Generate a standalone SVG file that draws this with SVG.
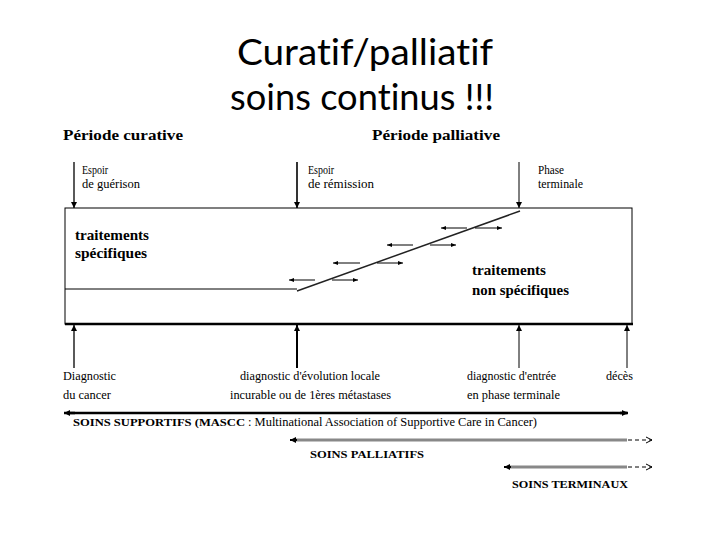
<svg xmlns="http://www.w3.org/2000/svg" width="720" height="540" viewBox="0 0 720 540">
<defs>
<style>
.t{font-family:"Liberation Serif","Times New Roman",serif;font-size:12px;fill:#000}
.b{font-family:"Liberation Serif","Times New Roman",serif;font-weight:bold;fill:#000}
.title{font-family:Lato,"Open Sans",sans-serif;font-size:37px;fill:#000;text-anchor:middle;font-variant-ligatures:none;font-feature-settings:"liga" 0,"dlig" 0}
.ln{stroke:#000;fill:none}
</style>
<marker id="ah" markerUnits="userSpaceOnUse" markerWidth="7" markerHeight="7" refX="6" refY="3.5" orient="auto"><path d="M0,0.5 L6,3.5 L0,6.5 z" fill="#000"/></marker>
<marker id="ahs" markerUnits="userSpaceOnUse" markerWidth="6" markerHeight="6" refX="5" refY="3" orient="auto"><path d="M0,1 L5,3 L0,5 z" fill="#000"/></marker>
<marker id="aho" markerUnits="userSpaceOnUse" markerWidth="8" markerHeight="8" refX="6" refY="4" orient="auto"><path d="M0,1 L6,4 L0,7" fill="none" stroke="#000" stroke-width="1"/></marker>
</defs>
<rect width="720" height="540" fill="#fff"/>

<g id="title">
<text class="title" x="365" y="65" textLength="256" lengthAdjust="spacingAndGlyphs">Curatif/palliatif</text>
<text class="title" x="362" y="110" textLength="264" lengthAdjust="spacingAndGlyphs">soins continus !!!</text>
</g>

<g id="periodes">
<text class="b" x="63" y="140" font-size="14" textLength="120" lengthAdjust="spacingAndGlyphs">Période curative</text>
<text class="b" x="372" y="140" font-size="14" textLength="128" lengthAdjust="spacingAndGlyphs">Période palliative</text>
</g>

<g id="box">
<rect x="65" y="208" width="567" height="116" fill="none" stroke="#000" stroke-width="1"/>
<line x1="65" y1="324" x2="633" y2="324" stroke="#000" stroke-width="2.5"/>
<text class="b" x="75" y="240" font-size="14" textLength="74" lengthAdjust="spacingAndGlyphs">traitements</text>
<text class="b" x="75" y="258" font-size="14" textLength="72" lengthAdjust="spacingAndGlyphs">spécifiques</text>
<text class="b" x="472" y="275" font-size="14" textLength="74" lengthAdjust="spacingAndGlyphs">traitements</text>
<text class="b" x="472" y="295" font-size="14" textLength="97" lengthAdjust="spacingAndGlyphs">non spécifiques</text>
</g>

<g id="haut-labels">
<text class="t" x="82" y="174" textLength="26" lengthAdjust="spacingAndGlyphs">Espoir</text>
<text class="t" x="82" y="188" textLength="58" lengthAdjust="spacingAndGlyphs">de guérison</text>
<text class="t" x="308" y="174" textLength="26" lengthAdjust="spacingAndGlyphs">Espoir</text>
<text class="t" x="308" y="188" textLength="66" lengthAdjust="spacingAndGlyphs">de rémission</text>
<text class="t" x="538" y="174" textLength="26" lengthAdjust="spacingAndGlyphs">Phase</text>
<text class="t" x="538" y="188" textLength="45" lengthAdjust="spacingAndGlyphs">terminale</text>
</g>

<g id="bas-labels">
<text class="t" x="63" y="380" textLength="53" lengthAdjust="spacingAndGlyphs">Diagnostic</text>
<text class="t" x="63" y="399" textLength="48" lengthAdjust="spacingAndGlyphs">du cancer</text>
<text class="t" x="240" y="380" textLength="140" lengthAdjust="spacingAndGlyphs">diagnostic d'évolution locale</text>
<text class="t" x="230" y="399" textLength="161" lengthAdjust="spacingAndGlyphs">incurable ou de 1ères métastases</text>
<text class="t" x="467" y="380" textLength="89" lengthAdjust="spacingAndGlyphs">diagnostic d'entrée</text>
<text class="t" x="467" y="399" textLength="93" lengthAdjust="spacingAndGlyphs">en phase terminale</text>
<text class="t" x="606" y="380" textLength="27" lengthAdjust="spacingAndGlyphs">décès</text>
</g>

<g id="soins-labels">
<text class="b" x="73" y="426" font-size="11" textLength="172" lengthAdjust="spacingAndGlyphs">SOINS SUPPORTIFS (MASCC</text>
<text class="t" x="248" y="426" font-size="11.5" textLength="289" lengthAdjust="spacingAndGlyphs">: Multinational Association of Supportive Care in Cancer)</text>
<text class="b" x="310" y="458" font-size="11" textLength="114" lengthAdjust="spacingAndGlyphs">SOINS PALLIATIFS</text>
<text class="b" x="512" y="488" font-size="11" textLength="116" lengthAdjust="spacingAndGlyphs">SOINS TERMINAUX</text>
</g>

<g id="connecteurs">
<line class="ln" x1="74" y1="162" x2="74" y2="208" stroke-width="1.3" marker-end="url(#ah)"/>
<line class="ln" x1="297" y1="162" x2="297" y2="208" stroke-width="1.6" marker-end="url(#ah)"/>
<line class="ln" x1="519" y1="162" x2="519" y2="208" stroke-width="1" marker-end="url(#ah)"/>

<line class="ln" x1="74" y1="368" x2="74" y2="325" stroke-width="1.3" marker-end="url(#ah)"/>
<line class="ln" x1="297" y1="368" x2="297" y2="325" stroke-width="2" marker-end="url(#ah)"/>
<line class="ln" x1="519" y1="368" x2="519" y2="325" stroke-width="1" marker-end="url(#ah)"/>
<line class="ln" x1="627" y1="368" x2="627" y2="325" stroke-width="1" marker-end="url(#ah)"/>

<line class="ln" x1="65" y1="289" x2="297" y2="289" stroke-width="1"/>
<line x1="297" y1="291" x2="520" y2="211" stroke="#222" stroke-width="1.5"/>

<line class="ln" x1="315" y1="280" x2="289" y2="280" stroke-width="1" marker-end="url(#ahs)"/>
<line class="ln" x1="332" y1="280" x2="358" y2="280" stroke-width="1" marker-end="url(#ahs)"/>
<line class="ln" x1="360" y1="263" x2="333" y2="263" stroke-width="1" marker-end="url(#ahs)"/>
<line class="ln" x1="377" y1="263" x2="403" y2="263" stroke-width="1" marker-end="url(#ahs)"/>
<line class="ln" x1="413" y1="245" x2="387" y2="245" stroke-width="1" marker-end="url(#ahs)"/>
<line class="ln" x1="430" y1="245" x2="456" y2="245" stroke-width="1" marker-end="url(#ahs)"/>
<line class="ln" x1="467" y1="228" x2="441" y2="228" stroke-width="1" marker-end="url(#ahs)"/>
<line class="ln" x1="475" y1="228" x2="502" y2="228" stroke-width="1" marker-end="url(#ahs)"/>

<line class="ln" x1="70" y1="413" x2="627" y2="413" stroke-width="2.5"/>
<line class="ln" x1="75" y1="413" x2="64" y2="413" stroke-width="2.5" marker-end="url(#ah)"/>
<line class="ln" x1="620" y1="413" x2="628" y2="413" stroke-width="2.5" marker-end="url(#ah)"/>

<line x1="295" y1="440" x2="627" y2="440" stroke="#888" stroke-width="3"/>
<line x1="297" y1="440" x2="290" y2="440" stroke="#000" stroke-width="2" marker-end="url(#ah)"/>
<line class="ln" x1="628" y1="440" x2="652" y2="440" stroke-width="1" stroke-dasharray="4,3" marker-end="url(#aho)"/>

<line x1="509" y1="467" x2="627" y2="467" stroke="#888" stroke-width="3"/>
<line x1="511" y1="467" x2="504" y2="467" stroke="#000" stroke-width="2" marker-end="url(#ah)"/>
<line class="ln" x1="628" y1="467" x2="652" y2="467" stroke-width="1" stroke-dasharray="4,3" marker-end="url(#aho)"/>
</g>
</svg>
